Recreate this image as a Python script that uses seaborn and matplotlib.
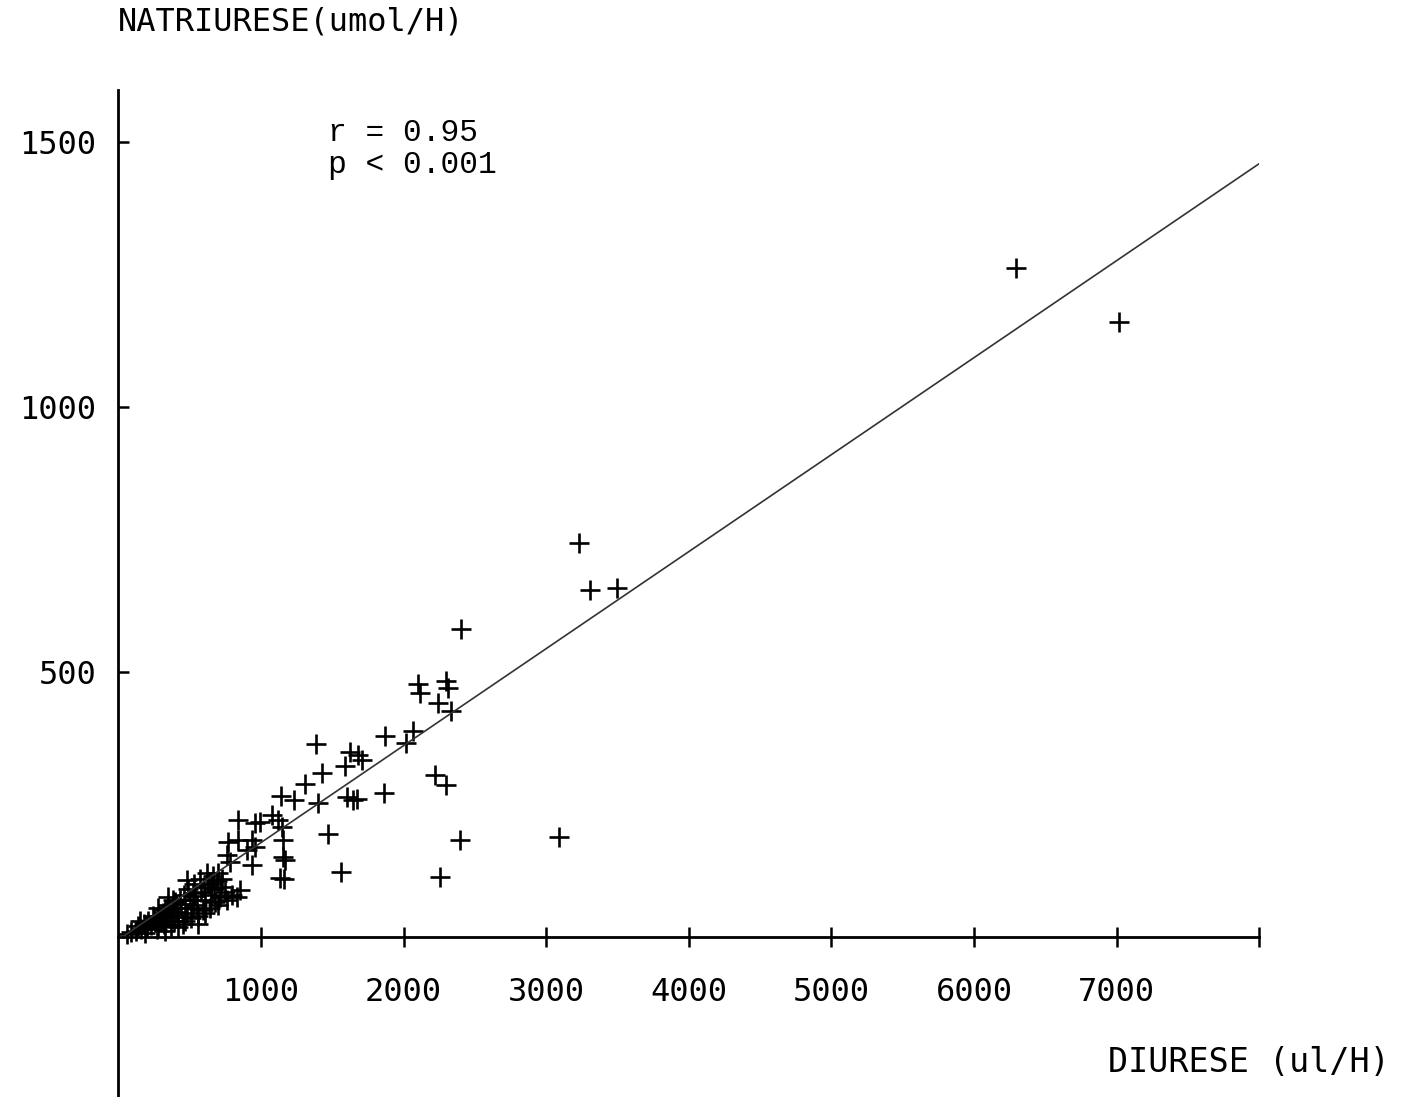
import matplotlib
matplotlib.use("Agg")
import matplotlib.pyplot as plt
import seaborn as sns
import numpy as np
import pandas as pd

# Data
diurese = [
    # dense low cluster
    60, 90, 120, 140, 160, 180, 200, 210, 230, 250, 260, 270, 290, 300, 310,
    320, 330, 340, 350, 360, 370, 380, 390, 400, 410, 420, 430, 440, 450, 460,
    470, 480, 490, 500, 510, 520, 530, 540, 550, 560, 570, 580, 590, 600, 610,
    620, 630, 640, 650, 660, 670, 680, 690, 700, 710, 720, 730, 750, 760, 480,
    150, 190, 240, 280, 330, 380, 420, 470, 520, 560, 610, 650, 700, 280, 350,
    # around 800-1200
    840, 960, 995, 1077, 1119, 1147, 769, 840, 938, 960, 902, 762, 783, 938,
    1154, 1168, 1133, 853, 832, 797,
    # middle
    1140, 1231, 1309, 1400, 1386, 1428, 1470, 1561, 1161, 1154,
    1589, 1623, 1681, 1709, 1605, 1647, 1675, 1864, 1870, 2017, 2066,
    2101, 2115, 2298, 2312, 2242, 2333, 2220, 2298, 2395, 2255, 2402,
    3090, 3229, 3306, 3497, 6295, 7017,
]
natriurese = [
    5, 10, 12, 20, 15, 25, 18, 30, 22, 35, 28, 15, 40, 30, 45,
    25, 50, 35, 60, 42, 20, 55, 30, 65, 48, 38, 70, 55, 25, 80,
    62, 45, 90, 70, 35, 55, 100, 78, 60, 40, 110, 85, 50, 95, 70,
    120, 100, 55, 80, 115, 90, 65, 105, 120, 75, 95, 110, 85, 70, 108,
    30, 8, 40, 55, 12, 70, 18, 30, 82, 25, 45, 100, 60, 20, 75,
    221, 215, 217, 230, 221, 208, 179, 183, 183, 170, 164, 155, 142, 136,
    183, 145, 111, 89, 75, 79,
    266, 258, 289, 253, 364, 309, 194, 123, 109, 151,
    323, 349, 343, 334, 264, 258, 260, 272, 379, 366, 389,
    477, 460, 483, 470, 442, 426, 306, 287, 183, 113, 581,
    189, 743, 655, 658, 1262, 1160,
]

slope = 0.183
intercept = -5.0
line_x = [30, 8030]

x_ticks = [1000, 2000, 3000, 4000, 5000, 6000, 7000, 8000]
x_tick_labels = ["1000", "2000", "3000", "4000", "5000", "6000", "7000", ""]
y_ticks = [500, 1000, 1500]
y_tick_labels = ["500", "1000", "1500"]

df = pd.DataFrame({"diurese": diurese, "natriurese": natriurese})
line_df = pd.DataFrame({"x": line_x, "y": [intercept + slope * v for v in line_x]})

sns.set_style("white")
plt.rcParams["font.family"] = ["DejaVu Sans Mono", "DejaVu Sans"]
plt.rcParams["text.color"] = "black"
plt.rcParams["xtick.color"] = "black"
plt.rcParams["ytick.color"] = "black"

fig = plt.figure(figsize=(14.01, 10.97), dpi=100)
ax = fig.add_axes([118.4 / 1401, 0.0, (1259.2 - 118.4) / 1401, (1097 - 90) / 1097])

sns.lineplot(data=line_df, x="x", y="y", ax=ax, color="#333333", linewidth=1.2)
sns.scatterplot(data=df, x="diurese", y="natriurese", ax=ax, marker="+",
                s=210, linewidth=1.9, color="black")

ax.set_xlim(0, 8000)
ax.set_ylim(-302, 1598)
ax.spines["top"].set_visible(False)
ax.spines["right"].set_visible(False)
ax.spines["bottom"].set_position(("data", 0))
ax.spines["left"].set_position(("data", 0))
for sp in ("bottom", "left"):
    ax.spines[sp].set_linewidth(2.0)
    ax.spines[sp].set_color("black")

ax.set_xticks(x_ticks)
ax.set_xticklabels(x_tick_labels)
ax.set_yticks(y_ticks)
ax.set_yticklabels(y_tick_labels)
ax.tick_params(axis="x", direction="inout", length=14, width=1.8, pad=22,
               labelsize=23, bottom=True, labelcolor="black")
ax.tick_params(axis="y", direction="in", length=8, width=1.8, pad=16,
               labelsize=23, left=True, labelcolor="black")
ax.set_xlabel("")
ax.set_ylabel("")

fig.text(118 / 1401, 1 - 22 / 1097, "NATRIURESE(umol/H)", fontsize=23,
         ha="left", va="center", family="DejaVu Sans Mono", color="black")
fig.text(1390 / 1401, 1 - 1063 / 1097, "DIURESE (ul/H)", fontsize=24,
         ha="right", va="center", family="DejaVu Sans Mono", color="black")
fig.text(328 / 1401, 1 - 133 / 1097, "r = 0.95", fontsize=22.5,
         ha="left", va="center", family="Liberation Mono", color="black")
fig.text(328 / 1401, 1 - 165 / 1097, "p < 0.001", fontsize=22.5,
         ha="left", va="center", family="Liberation Mono", color="black")

fig.savefig("out.png", dpi=100, facecolor="white")
